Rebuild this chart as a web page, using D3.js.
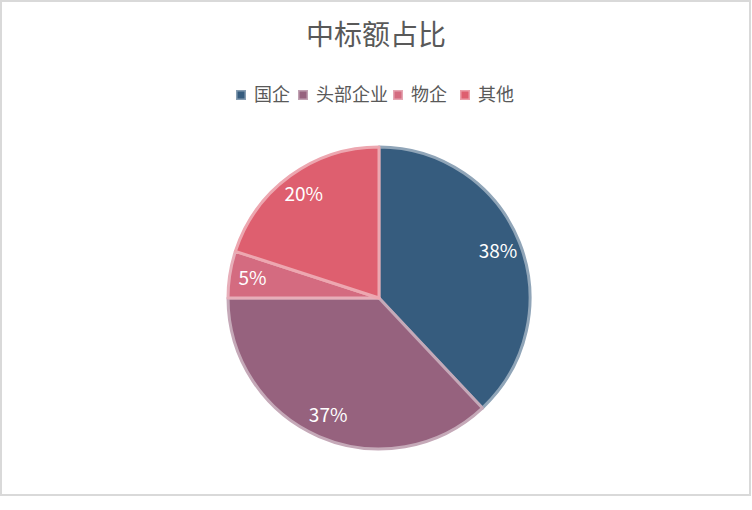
<!DOCTYPE html>
<html>
<head>
<meta charset="utf-8">
<script src="https://cdn.jsdelivr.net/npm/d3@7/dist/d3.min.js"></script>
<style>
html,body{margin:0;padding:0;background:#fff;}
svg{display:block;}
</style>
</head>
<body>
<svg id="chart" width="752" height="510"></svg>
<script>
const title = "中标额占比";
const categories = ["国企", "头部企业", "物企", "其他"];
const values = [38, 37, 5, 20];
const colors = ["#365C7E", "#96627E", "#D46B80", "#DE5F6F"];

const svg = d3.select("#chart");
const font = "'Noto Sans CJK SC', 'Microsoft YaHei', sans-serif";

// frame
svg.append("rect").attr("x", 1).attr("y", 1).attr("width", 749).attr("height", 494)
  .attr("fill", "#fff").attr("stroke", "#D9D9D9").attr("stroke-width", 2);

// title
svg.append("text").attr("x", 376).attr("y", 45).attr("text-anchor", "middle")
  .attr("font-family", font).attr("font-size", 28).attr("fill", "#595959").text(title);

// legend
const legendX = [236, 298, 393, 460];
const lg = svg.append("g");
categories.forEach((c, i) => {
  const g = lg.append("g").attr("transform", `translate(${legendX[i]},95)`);
  g.append("rect").attr("x", 0.75).attr("y", -4.25).attr("width", 8.5).attr("height", 8.5)
    .attr("fill", colors[i]).attr("stroke", d3.interpolateRgb(colors[i], "#fff")(0.4)).attr("stroke-width", 1.5);
  g.append("text").attr("x", 18).attr("y", 0).attr("dy", "0.36em")
    .attr("font-family", font).attr("font-size", 18).attr("fill", "#595959").text(c);
});

// pie
const cx = 379, cy = 298, R = 151;
const pie = d3.pie().sort(null).value(d => d)(values);
const arc = d3.arc().innerRadius(0).outerRadius(R);
const labelArc = d3.arc().innerRadius(128).outerRadius(128);
const pg = svg.append("g").attr("transform", `translate(${cx},${cy})`);
pg.selectAll("path").data(pie).join("path")
  .attr("d", arc)
  .attr("fill", (d, i) => colors[i])
  .attr("stroke", (d, i) => d3.interpolateRgb(colors[i], "#fff")(0.45))
  .attr("stroke-width", 3)
  .attr("stroke-linejoin", "round");

pg.selectAll("text").data(pie).join("text")
  .attr("transform", d => `translate(${labelArc.centroid(d)})`)
  .attr("text-anchor", "middle").attr("dy", "0.36em")
  .attr("font-family", font).attr("font-size", 19).attr("fill", "#fff")
  .text(d => d.data + "%");
</script>
</body>
</html>
